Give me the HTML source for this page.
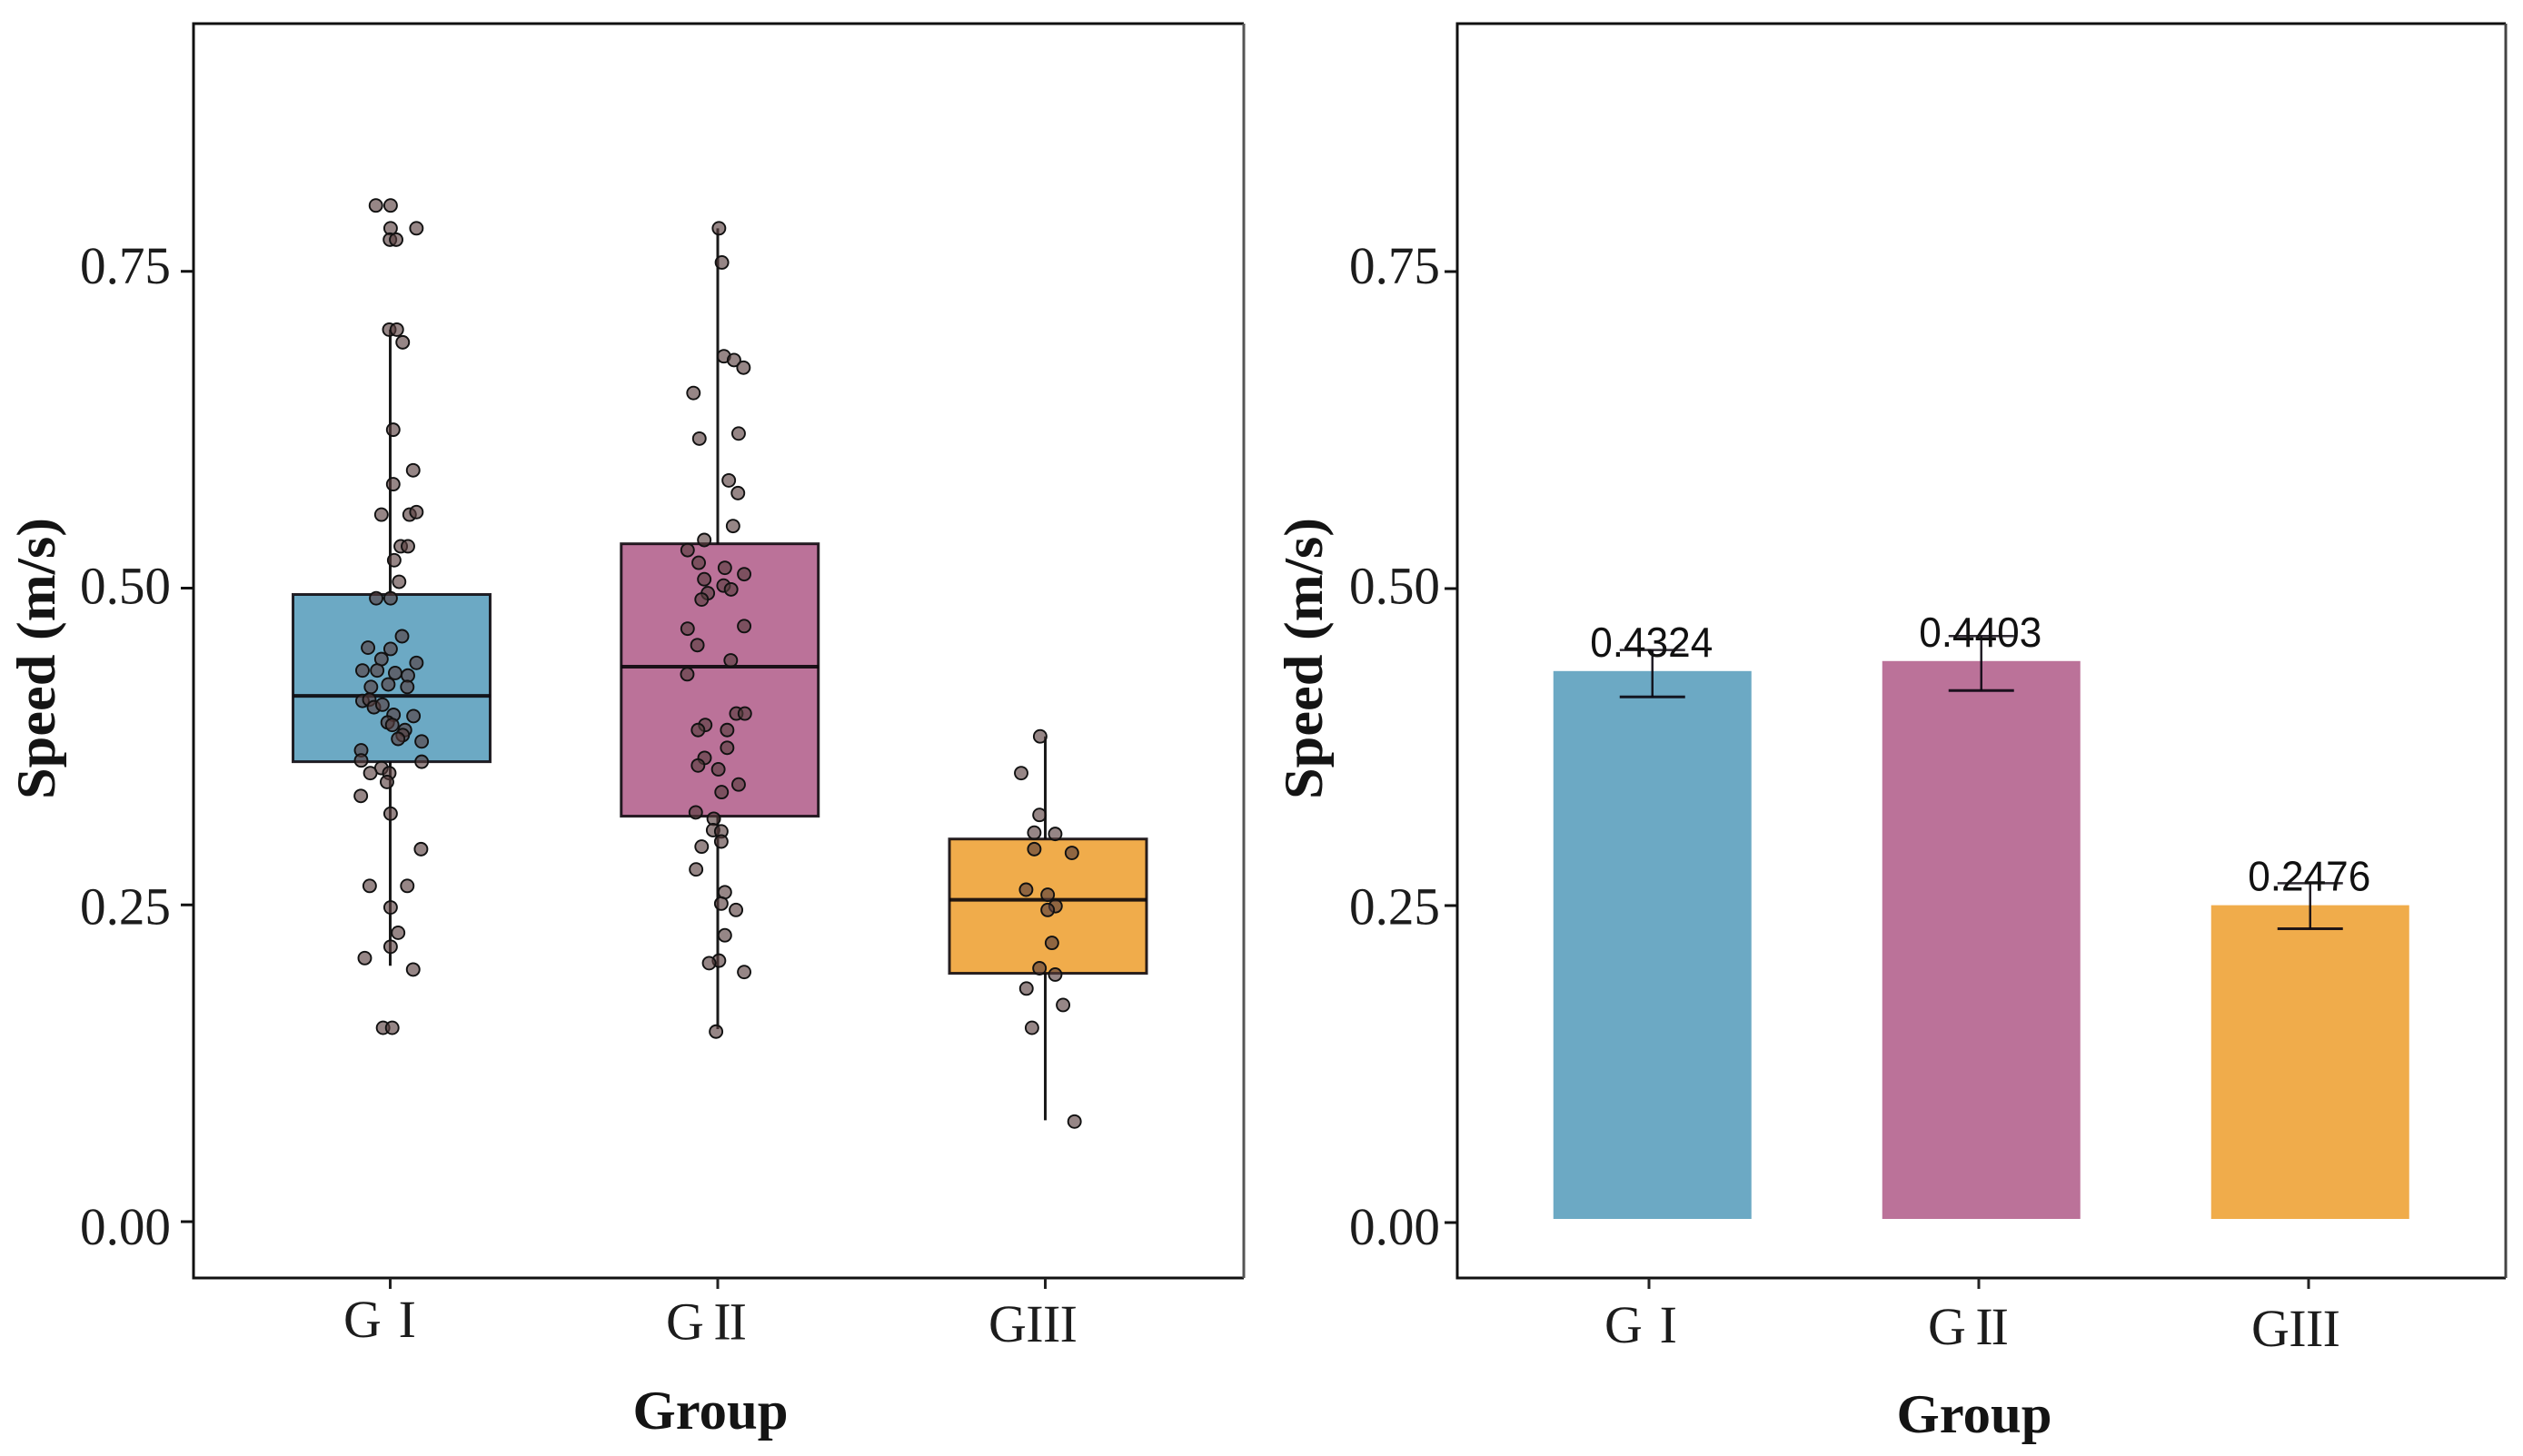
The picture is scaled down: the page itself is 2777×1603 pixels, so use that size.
<!DOCTYPE html>
<html lang="en">
<head>
<meta charset="utf-8">
<title>Speed by group: box plot and bar chart</title>
<style>
html,body{margin:0;padding:0;background:#fff}
svg{display:block}
.tick-label{font-family:"Liberation Serif",serif;font-size:58px;fill:#1c1c1c}
.axis-title{font-family:"Liberation Serif",serif;font-size:60px;font-weight:bold;fill:#141414}
.value-label{font-family:"Liberation Sans",sans-serif;font-size:46px;fill:#111}
</style>
</head>
<body>
<svg id="chart" xmlns="http://www.w3.org/2000/svg" width="2777" height="1603" viewBox="0 0 2777 1603">
  <rect x="0" y="0" width="2777" height="1603" fill="#ffffff"/>
  <g id="left-panel">
    <g id="left-marks"></g>
    <path d="M1369 26H213V1407H1369" fill="none" stroke="#111" stroke-width="3"/>
    <line x1="1369" y1="26" x2="1369" y2="1407" stroke="#555" stroke-width="3"/>
    <g id="left-axes"></g>
    <text class="axis-title" transform="translate(60 725) rotate(-90)" text-anchor="middle" textLength="310" lengthAdjust="spacingAndGlyphs">Speed (m/s)</text>
    <text class="axis-title" x="782" y="1573" text-anchor="middle" textLength="171" lengthAdjust="spacingAndGlyphs">Group</text>
  </g>
  <g id="right-panel">
    <g id="right-marks"></g>
    <path d="M2758 26H1604V1407H2758" fill="none" stroke="#111" stroke-width="3"/>
    <line x1="2758" y1="26" x2="2758" y2="1407" stroke="#444" stroke-width="3"/>
    <g id="right-axes"></g>
    <text class="axis-title" transform="translate(1455 725) rotate(-90)" text-anchor="middle" textLength="310" lengthAdjust="spacingAndGlyphs">Speed (m/s)</text>
    <text class="axis-title" x="2173" y="1577" text-anchor="middle" textLength="171" lengthAdjust="spacingAndGlyphs">Group</text>
  </g>
</svg>
<script>
// ---- shared categories and ticks ----
const categories = ["G I", "G II", "GIII"];
const yTickValues = [0, 0.25, 0.5, 0.75];
const yTickLabels = ["0.00", "0.25", "0.50", "0.75"];
const groupColors = ["#6ca9c4", "#bb7299", "#f0ac4b"];

// ---- box plot summary values ----
const boxQ1 = [0.363, 0.320, 0.196];
const boxMedian = [0.415, 0.438, 0.254];
const boxQ3 = [0.495, 0.535, 0.302];
const whiskerLow = [0.202, 0.152, 0.080];
const whiskerHigh = [0.704, 0.784, 0.383];

// ---- box plot raw observations (speed, and horizontal jitter in category units) ----
const speedsG1 = [0.802,0.802,0.784,0.784,0.775,0.775,0.704,0.704,0.694,0.625,0.593,0.582,0.558,0.558,0.560,0.533,0.533,0.522,0.505,0.492,0.492,
  0.462,0.453,0.452,0.444,0.441,0.435,0.435,0.433,0.431,0.422,0.424,0.422,0.411,0.412,0.406,0.408,0.400,0.399,0.394,0.392,0.388,0.384,0.381,0.379,0.372,0.364,0.363,0.358,0.354,0.354,0.347,0.336,0.322,0.294,0.265,0.265,0.248,0.228,0.217,0.208,0.199,0.153,0.153];
const jitterG1 = [-0.048,-0.003,-0.003,0.076,-0.005,0.014,-0.007,0.016,0.034,0.005,0.066,0.005,-0.031,0.055,0.076,0.028,0.050,0.008,0.023,-0.047,-0.003,
  0.032,-0.072,-0.003,-0.031,0.076,-0.089,-0.044,0.011,0.050,-0.063,-0.010,0.048,-0.089,-0.068,-0.054,-0.028,0.006,0.067,-0.012,0.002,0.041,0.034,0.020,0.092,-0.093,-0.093,0.092,-0.031,-0.065,-0.007,-0.014,-0.094,-0.003,0.090,-0.067,0.048,-0.003,0.020,-0.003,-0.082,0.066,-0.026,0.002];
const speedsG2 = [0.784,0.757,0.683,0.680,0.674,0.654,0.622,0.618,0.585,0.575,0.549,0.538,0.530,0.520,0.516,0.511,0.507,0.502,0.499,0.496,0.491,0.468,0.470,0.455,
  0.443,0.432,0.401,0.401,0.392,0.388,0.388,0.374,0.366,0.360,0.357,0.345,0.339,0.323,0.318,0.309,0.308,0.300,0.296,0.278,0.260,0.251,0.246,0.226,0.206,0.204,0.197,0.150];
const jitterG2 = [0.001,0.010,0.016,0.047,0.076,-0.077,0.061,-0.059,0.031,0.059,0.044,-0.044,-0.095,-0.061,0.019,0.078,-0.044,0.015,0.038,-0.033,-0.052,-0.095,0.078,-0.065,
  0.037,-0.096,0.054,0.080,-0.041,-0.063,0.026,0.026,-0.043,-0.063,-0.001,0.061,0.009,-0.070,-0.015,-0.017,0.008,0.008,-0.052,-0.069,0.019,0.008,0.053,0.019,0.001,-0.029,0.078,-0.008];
const speedsG3 = [0.383,0.354,0.321,0.307,0.306,0.294,0.291,0.262,0.258,0.249,0.246,0.220,0.200,0.195,0.184,0.171,0.153,0.079];
const jitterG3 = [-0.017,-0.075,-0.019,-0.035,0.029,-0.035,0.080,-0.060,0.006,0.030,0.006,0.019,-0.019,0.029,-0.059,0.053,-0.042,0.088];

// ---- bar chart values ----
const barMeans = [0.4324, 0.4403, 0.2476];
const barLabels = ["0.4324", "0.4403", "0.2476"];
const errorLow = [0.412, 0.417, 0.229];
const errorHigh = [0.449, 0.460, 0.265];

// ---- axis functions ----
const NS = "http://www.w3.org/2000/svg";
const leftY = v => 1345 - 1395 * v;
const leftBoxX = c => 431 + 361.25 * c;
const leftStemX = c => 429.5 + 360.5 * c;
const leftPointX = (c, j) => 431 + 360 * (c + j);
const rightTickY = v => 1346 - 1396 * v;
const rightMarkY = v => 1342 - 1395 * v;
const rightBarX = c => 1818.75 + 362 * c;
const tickLabelY = (v, base) => base - 1410.7 * v;
const BOX_W = 217, BAR_W = 218, CAP = 36;
const tickLabelWidth = [80, 89, 98];

function mk(tag, attrs, parent, text) {
  const el = document.createElementNS(NS, tag);
  for (const k in attrs) el.setAttribute(k, attrs[k]);
  if (text !== undefined) el.textContent = text;
  parent.appendChild(el);
  return el;
}

function drawAxes(parent, tickY, axisX, labelRight, labelBase, stemX, labelStart, labelBaseline) {
  yTickValues.forEach((v, i) => {
    const t = mk('line', {x1: axisX - 14, x2: axisX, y1: tickY(v), y2: tickY(v), stroke: '#111', 'stroke-width': 3}, parent);
    
    
    const l = mk('text', {x: labelRight, y: tickLabelY(v, labelBase), 'text-anchor': 'end', class: 'tick-label', textLength: 100, lengthAdjust: 'spacingAndGlyphs'}, parent, yTickLabels[i]);
    
    
  });
  categories.forEach((name, c) => {
    const t = mk('line', {x1: stemX(c), x2: stemX(c), y1: 1407, y2: 1419, stroke: '#222', 'stroke-width': 3}, parent);
    
    
    const l = mk('text', {x: labelStart(c), y: labelBaseline(c), class: 'tick-label', textLength: tickLabelWidth[c], lengthAdjust: 'spacing'}, parent, name);
    
    
  });
}

// ---- left panel: box plot ----
const leftMarks = document.getElementById('left-marks');
const pointSets = [[speedsG1, jitterG1], [speedsG2, jitterG2], [speedsG3, jitterG3]];
categories.forEach((name, c) => {
  const stem = mk('line', {x1: leftStemX(c), x2: leftStemX(c), y1: leftY(whiskerHigh[c]), y2: leftY(whiskerLow[c]), stroke: '#1a1a1a', 'stroke-width': 3}, leftMarks);
  
  
  const box = mk('rect', {x: leftBoxX(c) - BOX_W / 2, y: leftY(boxQ3[c]), width: BOX_W, height: leftY(boxQ1[c]) - leftY(boxQ3[c]), fill: groupColors[c], stroke: 'rgba(10,5,10,0.88)', 'stroke-width': 3}, leftMarks);
  
  
  const med = mk('line', {x1: leftBoxX(c) - BOX_W / 2, x2: leftBoxX(c) + BOX_W / 2, y1: leftY(boxMedian[c]), y2: leftY(boxMedian[c]), stroke: 'rgba(10,5,10,0.9)', 'stroke-width': 4}, leftMarks);
  
  
});
pointSets.forEach((set, c) => {
  set[0].forEach((s, i) => {
    const p = mk('circle', {cx: leftPointX(c, set[1][i]), cy: leftY(s), r: 7, fill: 'rgba(85,60,60,0.62)', stroke: '#111', 'stroke-width': 1.9}, leftMarks);
    
    
  });
});
drawAxes(document.getElementById('left-axes'), leftY, 213, 188, 1370, leftStemX, c => 378 + 355 * c, c => 1472 + 2.5 * c);

// ---- right panel: bar chart ----
const rightMarks = document.getElementById('right-marks');
categories.forEach((name, c) => {
  const bar = mk('rect', {x: rightBarX(c) - BAR_W / 2, y: rightMarkY(barMeans[c]), width: BAR_W, height: rightMarkY(0) - rightMarkY(barMeans[c]), fill: groupColors[c]}, rightMarks);
  
  
});
categories.forEach((name, c) => {
  const ex = rightBarX(c);
  const stem = mk('line', {x1: ex, x2: ex, y1: rightMarkY(errorHigh[c]), y2: rightMarkY(errorLow[c]), stroke: 'rgba(10,5,15,0.9)', 'stroke-width': 2.5}, rightMarks);
  
  
  const low = mk('line', {x1: ex - CAP, x2: ex + CAP, y1: rightMarkY(errorLow[c]), y2: rightMarkY(errorLow[c]), stroke: 'rgba(10,5,15,0.9)', 'stroke-width': 3}, rightMarks);
  
  
  const high = mk('line', {x1: ex - CAP, x2: ex + CAP, y1: rightMarkY(errorHigh[c]), y2: rightMarkY(errorHigh[c]), stroke: 'rgba(10,5,15,0.85)', 'stroke-width': 2.5}, rightMarks);
  
  
  const val = mk('text', {x: ex - 1, y: rightMarkY(barMeans[c]) - 16, 'text-anchor': 'middle', class: 'value-label', textLength: 135, lengthAdjust: 'spacingAndGlyphs'}, rightMarks, barLabels[c]);
  
  
});
drawAxes(document.getElementById('right-axes'), rightTickY, 1604, 1585, 1370, c => 1815 + 363 * c, c => 1766 + 356 * c, c => 1478 + 2 * c);
</script>
</body>
</html>
